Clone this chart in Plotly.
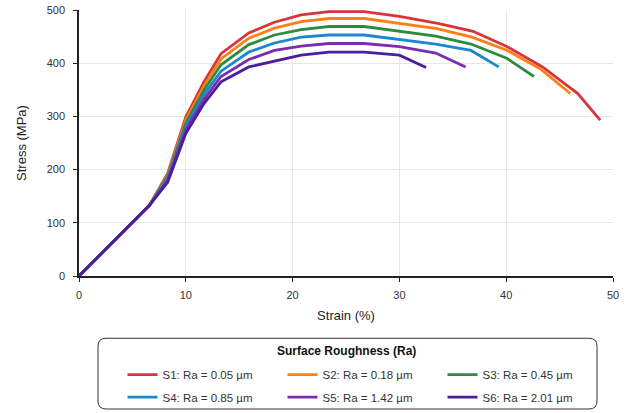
import plotly.graph_objects as go

names = ["S1: Ra = 0.05 µm", "S2: Ra = 0.18 µm", "S3: Ra = 0.45 µm",
         "S4: Ra = 0.85 µm", "S5: Ra = 1.42 µm", "S6: Ra = 2.01 µm"]
colors = ["#d8343a", "#ff7f17", "#2e8b3d", "#1a87cf", "#7b2daf", "#4a1f9a"]
legend_title = "Surface Roughness (Ra)"

s1_x = [0, 6.6, 8.3, 10.0, 11.7, 13.3, 15.9, 18.3, 20.8, 23.4, 26.7, 30.0, 33.6, 36.9, 40.0, 43.4, 46.7, 48.8]
s1_y = [0, 133, 193, 299, 365, 418, 457, 477, 491, 497, 497, 488, 475, 460, 432, 393, 343, 293]

s2_x = [0, 6.6, 8.3, 10.0, 11.7, 13.3, 15.9, 18.3, 20.8, 23.4, 26.7, 30.0, 33.5, 36.8, 40.0, 43.3, 46.0]
s2_y = [0, 133, 190, 293, 357, 408, 447, 466, 478, 484, 484, 475, 465, 449, 425, 388, 343]

s3_x = [0, 6.6, 8.3, 10.0, 11.7, 13.3, 15.9, 18.3, 20.8, 23.4, 26.7, 30.0, 33.4, 36.7, 40.0, 42.6]
s3_y = [0, 133, 187, 287, 349, 397, 435, 453, 463, 469, 469, 460, 451, 436, 410, 375]

s4_x = [0, 6.6, 8.3, 10.0, 11.7, 13.3, 15.9, 18.3, 20.8, 23.4, 26.7, 30.0, 33.4, 36.7, 39.3]
s4_y = [0, 133, 184, 281, 341, 385, 421, 438, 449, 453, 453, 445, 436, 424, 393]

s5_x = [0, 6.6, 8.3, 10.0, 11.7, 13.3, 15.9, 18.3, 20.8, 23.4, 26.7, 30.0, 33.4, 36.2]
s5_y = [0, 133, 180, 275, 332, 375, 407, 424, 432, 437, 437, 431, 419, 393]

s6_x = [0, 6.6, 8.3, 10.0, 11.7, 13.3, 15.9, 18.3, 20.8, 23.4, 26.7, 30.0, 32.5]
s6_y = [0, 133, 176, 268, 324, 365, 393, 404, 415, 421, 421, 415, 392]

xs = [s1_x, s2_x, s3_x, s4_x, s5_x, s6_x]
ys = [s1_y, s2_y, s3_y, s4_y, s5_y, s6_y]

x_ticks = [0, 10, 20, 30, 40, 50]
y_ticks = [0, 100, 200, 300, 400, 500]

FONT = "Liberation Sans, Arial, sans-serif"

W, H = 633, 413
ml, mr, mt, mb = 79, 20, 9.5, 136.5
pw, ph = W - ml - mr, H - mt - mb

def px2paper(sx, sy):
    return (sx - ml) / pw, (H - mb - sy) / ph

fig = go.Figure()
for i, (x, y, n, c) in enumerate(zip(xs, ys, names, colors)):
    fig.add_trace(go.Scatter(x=x, y=y, mode="lines", name=n,
                             line=dict(color=c, width=2.8),
                             legend="legend" if i < 3 else "legend2"))

# rounded legend box
bx0, by0, bx1, by1, r = 98, 339, 597, 410, 8
def P(sx, sy):
    a, b = px2paper(sx, sy)
    return f"{a:.5f},{b:.5f}"
path = (f"M {P(bx0 + r, by0)} L {P(bx1 - r, by0)} Q {P(bx1, by0)} {P(bx1, by0 + r)} "
        f"L {P(bx1, by1 - r)} Q {P(bx1, by1)} {P(bx1 - r, by1)} "
        f"L {P(bx0 + r, by1)} Q {P(bx0, by1)} {P(bx0, by1 - r)} "
        f"L {P(bx0, by0 + r)} Q {P(bx0, by0)} {P(bx0 + r, by0)} Z")
fig.add_shape(type="path", path=path, xref="paper", yref="paper",
              line=dict(color="#333333", width=1), fillcolor="rgba(0,0,0,0)")

tx, ty = px2paper(346, 352)
fig.add_annotation(text=f"<b>{legend_title}</b>", x=tx, y=ty, xref="paper", yref="paper",
                   showarrow=False, xanchor="center", yanchor="middle",
                   font=dict(size=12, color="#111111", family=FONT))

l1x, l1y = px2paper(122.5, 361)
l2x, l2y = px2paper(122.5, 383.5)
leg_common = dict(orientation="h", xanchor="left", yanchor="top",
                  entrywidth=115, entrywidthmode="pixels",
                  font=dict(size=11.5, color="#333333", family=FONT),
                  bgcolor="rgba(0,0,0,0)", borderwidth=0, traceorder="normal")

fig.update_layout(
    width=W, height=H,
    margin=dict(l=ml, r=mr, t=mt, b=mb, autoexpand=False),
    paper_bgcolor="white", plot_bgcolor="white",
    font=dict(family=FONT, size=11, color="#333333"),
    xaxis=dict(range=[0, 50], tickvals=x_ticks, showgrid=True, gridcolor="#e6e6e6",
               gridwidth=1, showline=True, linecolor="#222222", linewidth=1.5,
               ticks="outside", ticklen=4, tickcolor="#222222", zeroline=False,
               ticklabelstandoff=4, ticklabeloverflow="allow",
               title=dict(text="Strain (%)", font=dict(size=13, color="#222222"), standoff=11),
               tickfont=dict(size=11, color="#333333")),
    yaxis=dict(range=[0, 500], tickvals=y_ticks, showgrid=True, gridcolor="#e6e6e6",
               gridwidth=1, showline=True, linecolor="#222222", linewidth=1.5,
               ticks="outside", ticklen=4, tickcolor="#222222", zeroline=False,
               ticklabelstandoff=6, ticklabeloverflow="allow",
               title=dict(text="Stress (MPa)", font=dict(size=13, color="#222222"), standoff=17),
               tickfont=dict(size=11, color="#333333")),
    legend=dict(x=l1x, y=l1y, **leg_common),
    legend2=dict(x=l2x, y=l2y, **leg_common),
    showlegend=True,
)

fig.write_html("out.html", config={"displayModeBar": False},
               post_script="document.body.style.margin='0px';")
